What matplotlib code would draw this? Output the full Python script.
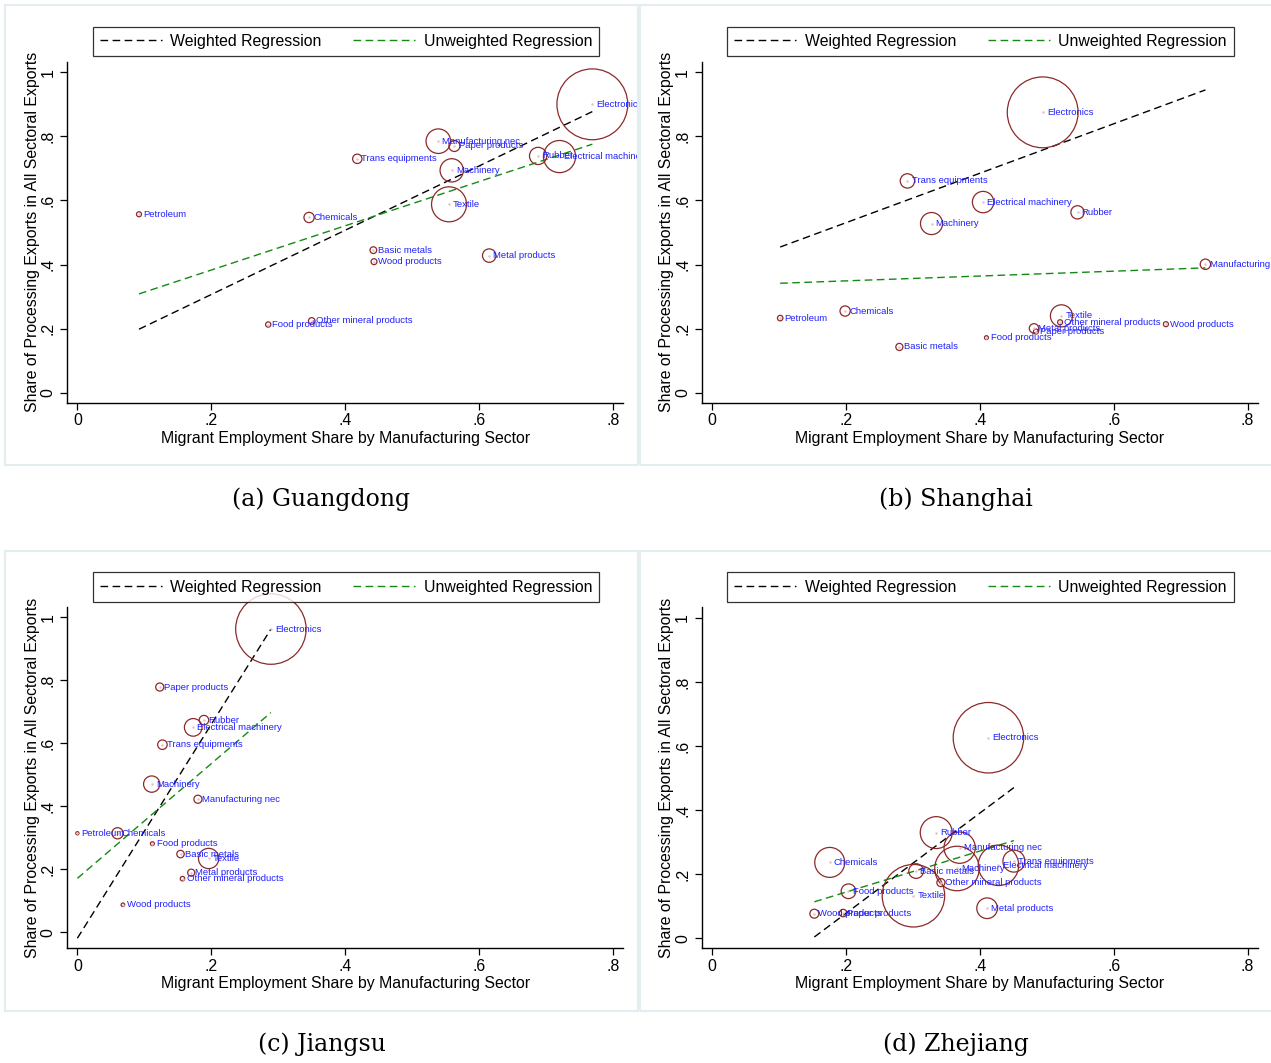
import numpy as np
import matplotlib
matplotlib.use("Agg")
import matplotlib.pyplot as plt
from matplotlib.patches import Rectangle

plt.rcParams['font.family'] = ['Liberation Sans', 'DejaVu Sans']

# ---- data ----
gd_labels = ['Electronics', 'Manufacturing nec', 'Paper products', 'Trans equipments',
             'Machinery', 'Rubber', 'Electrical machinery', 'Textile', 'Petroleum',
             'Chemicals', 'Basic metals', 'Wood products', 'Metal products',
             'Food products', 'Other mineral products']
gd_x = [0.769, 0.539, 0.563, 0.418, 0.559, 0.688, 0.720, 0.555, 0.092, 0.346, 0.442, 0.443, 0.615, 0.285, 0.350]
gd_y = [0.900, 0.785, 0.770, 0.730, 0.694, 0.739, 0.737, 0.588, 0.557, 0.547, 0.445, 0.409, 0.428, 0.213, 0.224]
gd_w = [100, 12.0, 2.4, 1.75, 10.8, 5.9, 20.6, 24.4, 0.5, 2.1, 0.9, 0.7, 3.6, 0.55, 0.87]

sh_labels = ['Electronics', 'Trans equipments', 'Electrical machinery', 'Machinery', 'Rubber',
             'Manufacturing nec', 'Petroleum', 'Chemicals', 'Basic metals', 'Food products',
             'Textile', 'Other mineral products', 'Metal products', 'Paper products', 'Wood products']
sh_x = [0.494, 0.292, 0.405, 0.328, 0.546, 0.737, 0.102, 0.199, 0.280, 0.410, 0.522, 0.520, 0.481, 0.484, 0.678]
sh_y = [0.875, 0.661, 0.595, 0.528, 0.563, 0.401, 0.233, 0.255, 0.143, 0.172, 0.240, 0.220, 0.201, 0.191, 0.214]
sh_w = [100, 4.1, 9.1, 9.7, 3.5, 2.15, 0.6, 2.1, 1.0, 0.3, 9.7, 0.5, 1.75, 0.5, 0.5]

js_labels = ['Electronics', 'Paper products', 'Rubber', 'Electrical machinery', 'Trans equipments',
             'Machinery', 'Manufacturing nec', 'Petroleum', 'Chemicals', 'Food products',
             'Basic metals', 'Textile', 'Metal products', 'Other mineral products', 'Wood products']
js_x = [0.289, 0.123, 0.189, 0.173, 0.127, 0.111, 0.180, 0.000, 0.060, 0.112, 0.154, 0.196, 0.170, 0.157, 0.068]
js_y = [0.962, 0.778, 0.673, 0.650, 0.595, 0.470, 0.422, 0.314, 0.314, 0.281, 0.248, 0.234, 0.189, 0.170, 0.087]
js_w = [99, 1.3, 1.8, 6.2, 1.8, 5.3, 1.3, 0.2, 2.5, 0.3, 1.1, 8.2, 1.0, 0.4, 0.25]

zj_labels = ['Electronics', 'Rubber', 'Manufacturing nec', 'Chemicals', 'Trans equipments',
             'Electrical machinery', 'Machinery', 'Basic metals', 'Other mineral products',
             'Textile', 'Food products', 'Metal products', 'Wood products', 'Paper products']
zj_x = [0.413, 0.335, 0.370, 0.176, 0.451, 0.428, 0.366, 0.305, 0.342, 0.301, 0.204, 0.411, 0.153, 0.196]
zj_y = [0.626, 0.330, 0.283, 0.237, 0.241, 0.228, 0.218, 0.210, 0.174, 0.133, 0.147, 0.094, 0.077, 0.079]
zj_w = [99, 20.3, 19.5, 17.9, 9.6, 32.7, 39.5, 4.3, 1.3, 77.9, 4.3, 8.5, 1.6, 1.1]

# fitted lines (intercept, slope)
gd_fit_w, gd_fit_u = (0.106, 1.003), (0.245, 0.690)
sh_fit_w, sh_fit_u = (0.376, 0.772), (0.334, 0.0756)
js_fit_w, js_fit_u = (-0.019, 3.394), (0.171, 1.820)
zj_fit_w, zj_fit_u = (-0.235, 1.564), (0.016, 0.641)

captions = ['(a) Guangdong', '(b) Shanghai', '(c) Jiangsu', '(d) Zhejiang']
x_ticks = [0, 0.2, 0.4, 0.6, 0.8]
x_ticklabels = ['0', '.2', '.4', '.6', '.8']
y_ticks = [0, 0.2, 0.4, 0.6, 0.8, 1.0]
y_ticklabels = ['0', '.2', '.4', '.6', '.8', '1']

panels = [
    (gd_labels, gd_x, gd_y, gd_w, gd_fit_w, gd_fit_u),
    (sh_labels, sh_x, sh_y, sh_w, sh_fit_w, sh_fit_u),
    (js_labels, js_x, js_y, js_w, js_fit_w, js_fit_u),
    (zj_labels, zj_x, zj_y, zj_w, zj_fit_w, zj_fit_u),
]
ylims = [(-0.031, 1.033), (-0.031, 1.033), (-0.051, 1.031), (-0.031, 1.033)]

W, H = 1271, 1063
fig = plt.figure(figsize=(W / 100, H / 100), dpi=100)

circle_col = '#8c2a2a'
label_col = '#2020ff'
green = '#148a14'
dash = (0, (5.5, 3.2))

for k, (labels, xs, ys, ws, fw, fu) in enumerate(panels):
    dx = 634.5 * (k % 2)
    dy = 545.6 * (k // 2)
    # light panel frame
    frame = Rectangle(((5 + dx) / W, 1 - (465 + dy) / H), 633 / W, 460 / H,
                      transform=fig.transFigure, fill=False, ec='#e4eef0', lw=1.6)
    fig.patches.append(frame)
    clip = Rectangle(((5 + dx) / W, 1 - (465 + dy) / H), 633 / W, 460 / H,
                     transform=fig.transFigure, fill=False, visible=False)
    fig.patches.append(clip)

    left, right, top, bottom = 67.4 + dx, 623 + dx, 61.7 + dy, 402.7 + dy
    ax = fig.add_axes([left / W, 1 - bottom / H, (right - left) / W, (bottom - top) / H])
    ax.set_xlim(-0.0149, 0.8148)
    ax.set_ylim(*ylims[k])
    for s in ['top', 'right']:
        ax.spines[s].set_visible(False)
    for s in ['left', 'bottom']:
        ax.spines[s].set_linewidth(1.0)

    xs = np.array(xs); ys = np.array(ys); ws = np.array(ws)
    ax.scatter(xs, ys, s=ws * 26, facecolors='none', edgecolors=circle_col,
               linewidths=0.9, clip_on=False, zorder=3)
    ax.scatter(xs, ys, s=0.6, color='#e8c0c0', clip_on=False, zorder=3)
    for lab, x, y in zip(labels, xs, ys):
        t = ax.annotate(lab, (x, y), xytext=(3, 0), textcoords='offset points',
                        ha='left', va='center', fontsize=6.8, color=label_col,
                        annotation_clip=False, zorder=4)
        t.set_clip_path(clip)

    xl = np.array([xs.min(), xs.max()])
    lw_line, = ax.plot(xl, fw[0] + fw[1] * xl, color='black', lw=1.0,
                       linestyle=dash, label='Weighted Regression', clip_on=False, zorder=2)
    lu_line, = ax.plot(xl, fu[0] + fu[1] * xl, color=green, lw=1.0,
                       linestyle=dash, label='Unweighted Regression', clip_on=False, zorder=2)

    ax.set_xticks(x_ticks)
    ax.set_xticklabels(x_ticklabels)
    ax.set_yticks(y_ticks)
    ax.set_yticklabels(y_ticklabels, rotation=90, va='center')
    ax.tick_params(axis='both', length=5, width=0.9, labelsize=11.4, direction='out')
    ax.tick_params(axis='x', pad=2.5)
    ax.tick_params(axis='y', pad=3.5)
    ax.set_xlabel('Migrant Employment Share by Manufacturing Sector', fontsize=11.4, labelpad=2)
    ax.set_ylabel('Share of Processing Exports in All Sectoral Exports', fontsize=11.4, labelpad=0.5)

    leg = fig.legend(handles=[lw_line, lu_line], loc='center', ncol=2,
                     bbox_to_anchor=((346 + dx) / W, 1 - (41.5 + dy) / H),
                     fontsize=11.4, frameon=True, fancybox=False, edgecolor='black',
                     handlelength=3.9, handletextpad=0.55, columnspacing=2.0,
                     borderpad=0.45, borderaxespad=0)
    leg.get_frame().set_linewidth(0.9)

    fig.text((321.5 + dx) / W, 1 - (499 + dy) / H, captions[k], ha='center', va='center',
             fontsize=17, family='DejaVu Serif')

fig.savefig('out.png', dpi=100, facecolor='white')
